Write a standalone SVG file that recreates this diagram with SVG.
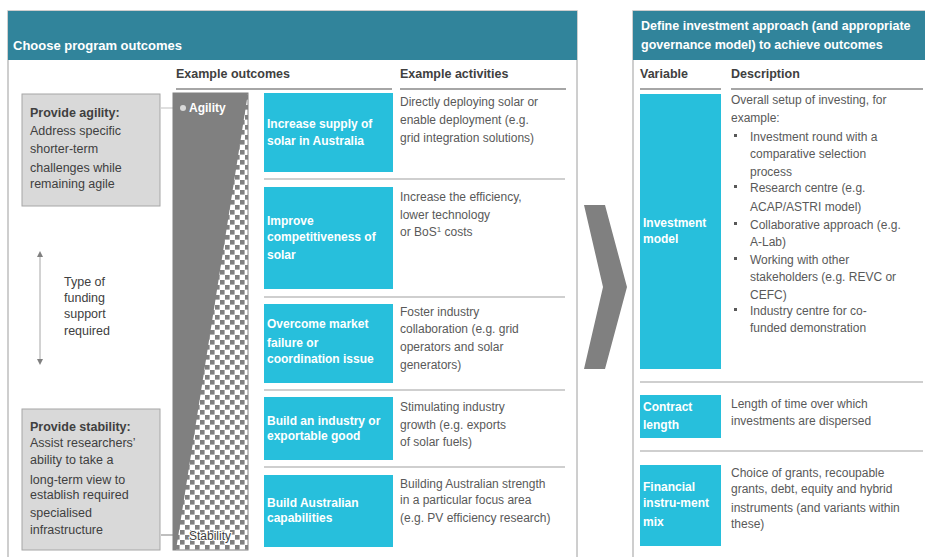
<svg xmlns="http://www.w3.org/2000/svg" width="925" height="557" viewBox="0 0 925 557">
<style>
text{font-family:"Liberation Sans",Arial,sans-serif;}
.hd{fill:#fff;font-weight:bold;font-size:13px;}
.hd2{fill:#fff;font-weight:bold;font-size:12.5px;}
.col{fill:#404040;font-weight:bold;font-size:12.5px;}
.cy{fill:#27bfdc;}
.ct{fill:#fff;font-weight:bold;font-size:12px;}
.bd{fill:#595959;font-size:12px;}
.lb{fill:#404040;font-size:12.5px;}
.lbb{fill:#404040;font-size:12.5px;font-weight:bold;}
.sep{stroke:#bfbfbf;stroke-width:1.5;fill:none;}
.ul{stroke:#a6a6a6;stroke-width:2;fill:none;}
.gb{fill:#d9d9d9;stroke:#a6a6a6;stroke-width:1;}
.teal{fill:#31849b;}
</style>
<defs>
<pattern id="chk" width="10" height="10" patternUnits="userSpaceOnUse">
<rect width="10" height="10" fill="#fff"/>
<rect x="0" y="0" width="4.6" height="4.6" fill="#808080"/>
<rect x="5" y="5" width="4.6" height="4.6" fill="#808080"/>
</pattern>
<marker id="ah" viewBox="0 0 10 10" refX="5" refY="5" markerWidth="6" markerHeight="6" orient="auto-start-reverse">
<path d="M0,0 L10,5 L0,10 z" fill="#808080"/>
</marker>
</defs>

<g id="left-panel">
<rect x="8" y="11" width="569" height="560" fill="#fff" stroke="#bfbfbf" stroke-width="1.5"/>
<rect class="teal" x="8" y="11" width="569" height="49"/>
<text class="hd" x="13" y="50">Choose program outcomes</text>
<text class="col" x="176" y="78">Example outcomes</text>
<line class="ul" x1="176" y1="89" x2="392" y2="89"/>
<text class="col" x="400" y="78">Example activities</text>
<line class="ul" x1="400" y1="89" x2="566" y2="89"/>
</g>

<g id="right-panel">
<rect x="633" y="11" width="300" height="560" fill="#fff" stroke="#bfbfbf" stroke-width="1.5"/>
<rect class="teal" x="633" y="11" width="300" height="49"/>
<text class="hd2" x="641" y="30">Define investment approach (and appropriate</text>
<text class="hd2" x="641" y="49">governance model) to achieve outcomes</text>
<text class="col" x="640" y="78">Variable</text>
<line class="ul" x1="640" y1="89" x2="721" y2="89"/>
<text class="col" x="731" y="78">Description</text>
<line class="ul" x1="731" y1="89" x2="923" y2="89"/>
</g>

<g id="connectors">
<line x1="161" y1="108" x2="181" y2="108" stroke="#bfbfbf" stroke-width="1"/>
<line x1="161" y1="535" x2="186" y2="535" stroke="#bfbfbf" stroke-width="2"/>
<line x1="40" y1="254" x2="40" y2="362" stroke="#a6a6a6" stroke-width="1" marker-start="url(#ah)" marker-end="url(#ah)"/>
</g>

<g id="spectrum-bar">
<rect x="173" y="93" width="75" height="457" fill="url(#chk)" stroke="#808080" stroke-width="1"/>
<polygon points="173,93 248,93 176,550 173,550" fill="#808080"/>
<circle cx="183" cy="108" r="3" fill="#d9d9d9"/>
<text x="189" y="112" fill="#fff" font-weight="bold" font-size="12px">Agility</text>
<text x="189" y="540" fill="#404040" font-size="12px" stroke="#fff" stroke-width="2" paint-order="stroke">Stability</text>
</g>

<g id="agility-box">
<rect class="gb" x="22" y="94" width="138" height="112"/>
<text class="lbb" x="30" y="117">Provide agility:</text>
<text class="lb" x="30" y="135">Address specific</text>
<text class="lb" x="30" y="153">shorter-term</text>
<text class="lb" x="30" y="172">challenges while</text>
<text class="lb" x="30" y="188">remaining agile</text>
</g>

<g id="funding-label">
<text class="lb" x="64" y="286">Type of</text>
<text class="lb" x="64" y="302">funding</text>
<text class="lb" x="64" y="318">support</text>
<text class="lb" x="64" y="335">required</text>
</g>

<g id="stability-box">
<rect class="gb" x="22" y="409" width="138" height="141"/>
<text class="lbb" x="30" y="431">Provide stability:</text>
<text class="lb" x="30" y="447">Assist researchers’</text>
<text class="lb" x="30" y="464">ability to take a</text>
<text class="lb" x="30" y="484">long-term view to</text>
<text class="lb" x="30" y="499">establish required</text>
<text class="lb" x="30" y="517">specialised</text>
<text class="lb" x="30" y="534">infrastructure</text>
</g>

<g id="outcome-1">
<rect class="cy" x="264" y="93" width="129" height="79"/>
<text class="ct" x="267" y="128">Increase supply of</text>
<text class="ct" x="267" y="145">solar in Australia</text>
<text class="bd" x="400" y="106">Directly deploying solar or</text>
<text class="bd" x="400" y="124">enable deployment (e.g.</text>
<text class="bd" x="400" y="142">grid integration solutions)</text>
<line class="sep" x1="264" y1="179" x2="565" y2="179"/>
</g>

<g id="outcome-2">
<rect class="cy" x="264" y="187" width="129" height="102"/>
<text class="ct" x="267" y="225">Improve</text>
<text class="ct" x="267" y="241">competitiveness of</text>
<text class="ct" x="267" y="259">solar</text>
<text class="bd" x="400" y="201">Increase the efficiency,</text>
<text class="bd" x="400" y="219">lower technology</text>
<text class="bd" x="400" y="236">or BoS<tspan font-size="8px" dy="-4">1</tspan><tspan dy="4"> costs</tspan></text>
<line class="sep" x1="264" y1="297" x2="565" y2="297"/>
</g>

<g id="outcome-3">
<rect class="cy" x="264" y="304" width="129" height="79"/>
<text class="ct" x="267" y="328">Overcome market</text>
<text class="ct" x="267" y="347">failure or</text>
<text class="ct" x="267" y="363">coordination issue</text>
<text class="bd" x="400" y="316">Foster industry</text>
<text class="bd" x="400" y="333">collaboration (e.g. grid</text>
<text class="bd" x="400" y="351">operators and solar</text>
<text class="bd" x="400" y="369">generators)</text>
<line class="sep" x1="264" y1="390" x2="565" y2="390"/>
</g>

<g id="outcome-4">
<rect class="cy" x="264" y="397" width="129" height="63"/>
<text class="ct" x="267" y="425">Build an industry or</text>
<text class="ct" x="267" y="440">exportable good</text>
<text class="bd" x="400" y="411">Stimulating industry</text>
<text class="bd" x="400" y="429">growth (e.g. exports</text>
<text class="bd" x="400" y="446">of solar fuels)</text>
<line class="sep" x1="264" y1="467" x2="565" y2="467"/>
</g>

<g id="outcome-5">
<rect class="cy" x="264" y="475" width="129" height="72"/>
<text class="ct" x="267" y="507">Build Australian</text>
<text class="ct" x="267" y="522">capabilities</text>
<text class="bd" x="400" y="488">Building Australian strength</text>
<text class="bd" x="400" y="504">in a particular focus area</text>
<text class="bd" x="400" y="522">(e.g. PV efficiency research)</text>
</g>

<g id="chevron">
<polygon points="584,205 605,205 627,287 605,369 584,369 603,287" fill="#808080"/>
</g>

<g id="investment-model">
<rect class="cy" x="640" y="94" width="81" height="275"/>
<text class="ct" x="643" y="227">Investment</text>
<text class="ct" x="643" y="243">model</text>
<text class="bd" x="731" y="104">Overall setup of investing, for</text>
<text class="bd" x="731" y="122">example:</text>
<rect x="734" y="134" width="3" height="3" fill="#595959"/>
<text class="bd" x="750" y="141">Investment round with a</text>
<text class="bd" x="750" y="158">comparative selection</text>
<text class="bd" x="750" y="176">process</text>
<rect x="734" y="185" width="3" height="3" fill="#595959"/>
<text class="bd" x="750" y="192">Research centre (e.g.</text>
<text class="bd" x="750" y="211">ACAP/ASTRI model)</text>
<rect x="734" y="222" width="3" height="3" fill="#595959"/>
<text class="bd" x="750" y="229">Collaborative approach (e.g.</text>
<text class="bd" x="750" y="246">A-Lab)</text>
<rect x="734" y="257" width="3" height="3" fill="#595959"/>
<text class="bd" x="750" y="264">Working with other</text>
<text class="bd" x="750" y="281">stakeholders (e.g. REVC or</text>
<text class="bd" x="750" y="299">CEFC)</text>
<rect x="734" y="308" width="3" height="3" fill="#595959"/>
<text class="bd" x="750" y="315">Industry centre for co-</text>
<text class="bd" x="750" y="332">funded demonstration</text>
<line class="sep" x1="640" y1="382" x2="923" y2="382"/>
</g>

<g id="contract-length">
<rect class="cy" x="640" y="395" width="81" height="43"/>
<text class="ct" x="643" y="411">Contract</text>
<text class="ct" x="643" y="429">length</text>
<text class="bd" x="731" y="408">Length of time over which</text>
<text class="bd" x="731" y="425">investments are dispersed</text>
<line class="sep" x1="640" y1="451" x2="923" y2="451"/>
</g>

<g id="financial-mix">
<rect class="cy" x="640" y="465" width="81" height="81"/>
<text class="ct" x="643" y="491">Financial</text>
<text class="ct" x="643" y="507">instru-ment</text>
<text class="ct" x="643" y="526">mix</text>
<text class="bd" x="731" y="477">Choice of grants, recoupable</text>
<text class="bd" x="731" y="493">grants, debt, equity and hybrid</text>
<text class="bd" x="731" y="512">instruments (and variants within</text>
<text class="bd" x="731" y="528">these)</text>
</g>
</svg>
